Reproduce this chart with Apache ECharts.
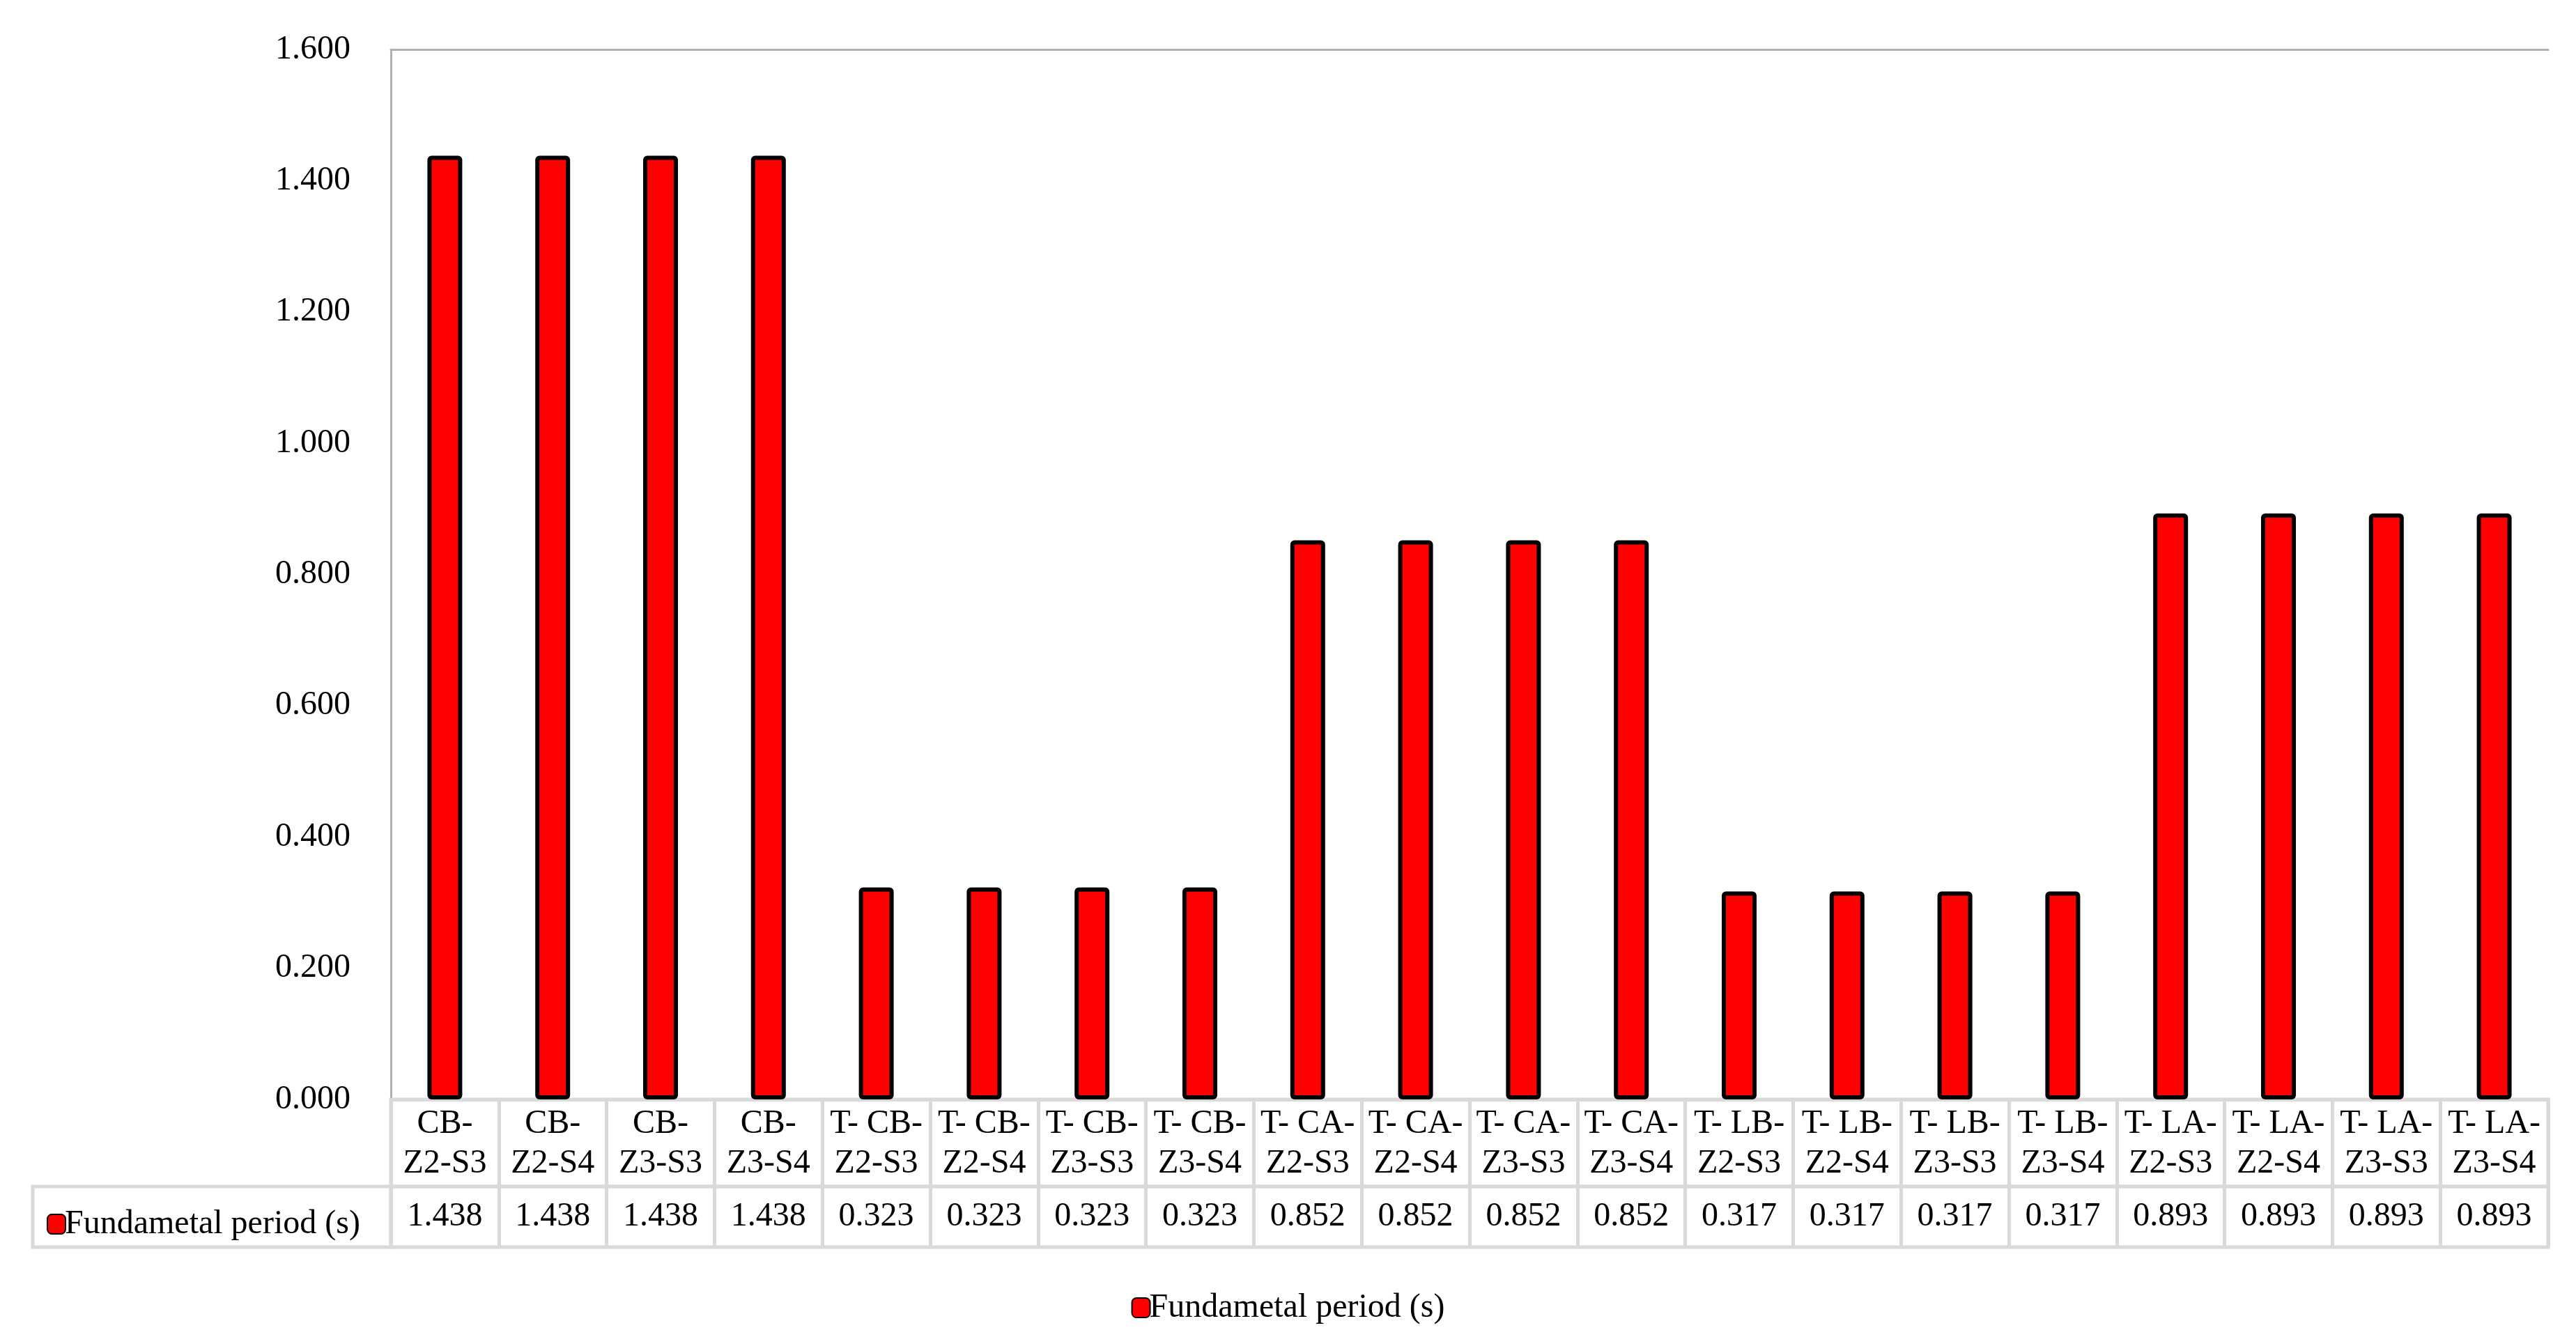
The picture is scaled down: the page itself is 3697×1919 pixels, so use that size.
<!DOCTYPE html>
<html>
<head>
<meta charset="utf-8">
<script src="https://cdn.jsdelivr.net/npm/echarts@6/dist/echarts.min.js"></script>
<style>html,body{margin:0;background:#fff}#c{width:3697px;height:1919px}</style>
</head>
<body>
<div id="c"></div>
<script>
var categories = ['CB-\nZ2-S3', 'CB-\nZ2-S4', 'CB-\nZ3-S3', 'CB-\nZ3-S4',
  'T- CB-\nZ2-S3', 'T- CB-\nZ2-S4', 'T- CB-\nZ3-S3', 'T- CB-\nZ3-S4',
  'T- CA-\nZ2-S3', 'T- CA-\nZ2-S4', 'T- CA-\nZ3-S3', 'T- CA-\nZ3-S4',
  'T- LB-\nZ2-S3', 'T- LB-\nZ2-S4', 'T- LB-\nZ3-S3', 'T- LB-\nZ3-S4',
  'T- LA-\nZ2-S3', 'T- LA-\nZ2-S4', 'T- LA-\nZ3-S3', 'T- LA-\nZ3-S4'];
var periods = [1.438, 1.438, 1.438, 1.438, 0.323, 0.323, 0.323, 0.323,
  0.852, 0.852, 0.852, 0.852, 0.317, 0.317, 0.317, 0.317,
  0.893, 0.893, 0.893, 0.893];
var seriesName = 'Fundametal period (s)';

var font = 'Liberation Serif';
var grey = '#d9d9d9';
var chart = echarts.init(document.getElementById('c'));

var option = {
  backgroundColor: '#fff',
  animation: false,
  textStyle: { fontFamily: font, color: '#000' },
  grid: [
    // 主图
    { left: 561, right: 40, top: 71, height: 1507 },
    // 分类行
    { left: 561, right: 40, top: 1578, height: 125, show: true, borderColor: grey, borderWidth: 5 },
    // 数值行
    { left: 561, right: 40, top: 1703, height: 87, show: true, borderColor: grey, borderWidth: 5 },
    // 系列名单元格
    { left: 47, width: 514, top: 1703, height: 87, show: true, borderColor: grey, borderWidth: 5 }
  ],
  legend: [{
    left: 62, top: 1728,
    data: [seriesName],
    itemWidth: 26, itemHeight: 28, itemGap: 4,
    textStyle: { fontFamily: font, fontSize: 48, color: '#000', padding: [0, 0, 0, -6] }
  }, {
    left: 'center', top: 1848,
    data: [seriesName],
    itemWidth: 26, itemHeight: 28,
    textStyle: { fontFamily: font, fontSize: 48, color: '#000', padding: [0, 0, 0, -6] }
  }],
  xAxis: [
    { gridIndex: 0, type: 'category', data: categories,
      axisLine: { lineStyle: { color: grey, width: 5 } },
      axisTick: { show: false }, axisLabel: { show: false } },
    { gridIndex: 0, type: 'category', data: categories, position: 'top',
      axisLine: { lineStyle: { color: '#b0b0b0', width: 3 } },
      axisTick: { show: false }, axisLabel: { show: false } },
    { gridIndex: 1, type: 'category', data: categories,
      axisLine: { show: false }, axisTick: { show: false },
      splitLine: { show: true, lineStyle: { color: grey, width: 5 } },
      axisLabel: { interval: 0, margin: -118, verticalAlign: 'top', lineHeight: 57,
        fontFamily: font, fontSize: 48, color: '#000' } },
    { gridIndex: 2, type: 'category', data: periods.map(function (v) { return v.toFixed(3); }),
      axisLine: { show: false }, axisTick: { show: false },
      splitLine: { show: true, lineStyle: { color: grey, width: 5 } },
      axisLabel: { interval: 0, margin: -44, verticalAlign: 'middle',
        fontFamily: font, fontSize: 48, color: '#000' } },
    { gridIndex: 3, type: 'category', show: false, data: [''] }
  ],
  yAxis: [
    { gridIndex: 0, type: 'value', min: 0, max: 1.6, interval: 0.2,
      axisLine: { show: true, lineStyle: { color: '#b0b0b0', width: 3 } },
      axisTick: { show: false }, splitLine: { show: false },
      axisLabel: { margin: 58, fontFamily: font, fontSize: 48, color: '#000',
        formatter: function (v) { return v.toFixed(3); } } },
    { gridIndex: 1, type: 'value', show: false },
    { gridIndex: 2, type: 'value', show: false },
    { gridIndex: 3, type: 'value', show: false }
  ],
  series: [{
    name: seriesName,
    type: 'bar',
    xAxisIndex: 0, yAxisIndex: 0,
    data: periods,
    barWidth: 50,
    itemStyle: { color: '#ff0000', borderColor: '#000', borderWidth: 6, borderRadius: 3 }
  }]
};
chart.setOption(option);
</script>
</body>
</html>
